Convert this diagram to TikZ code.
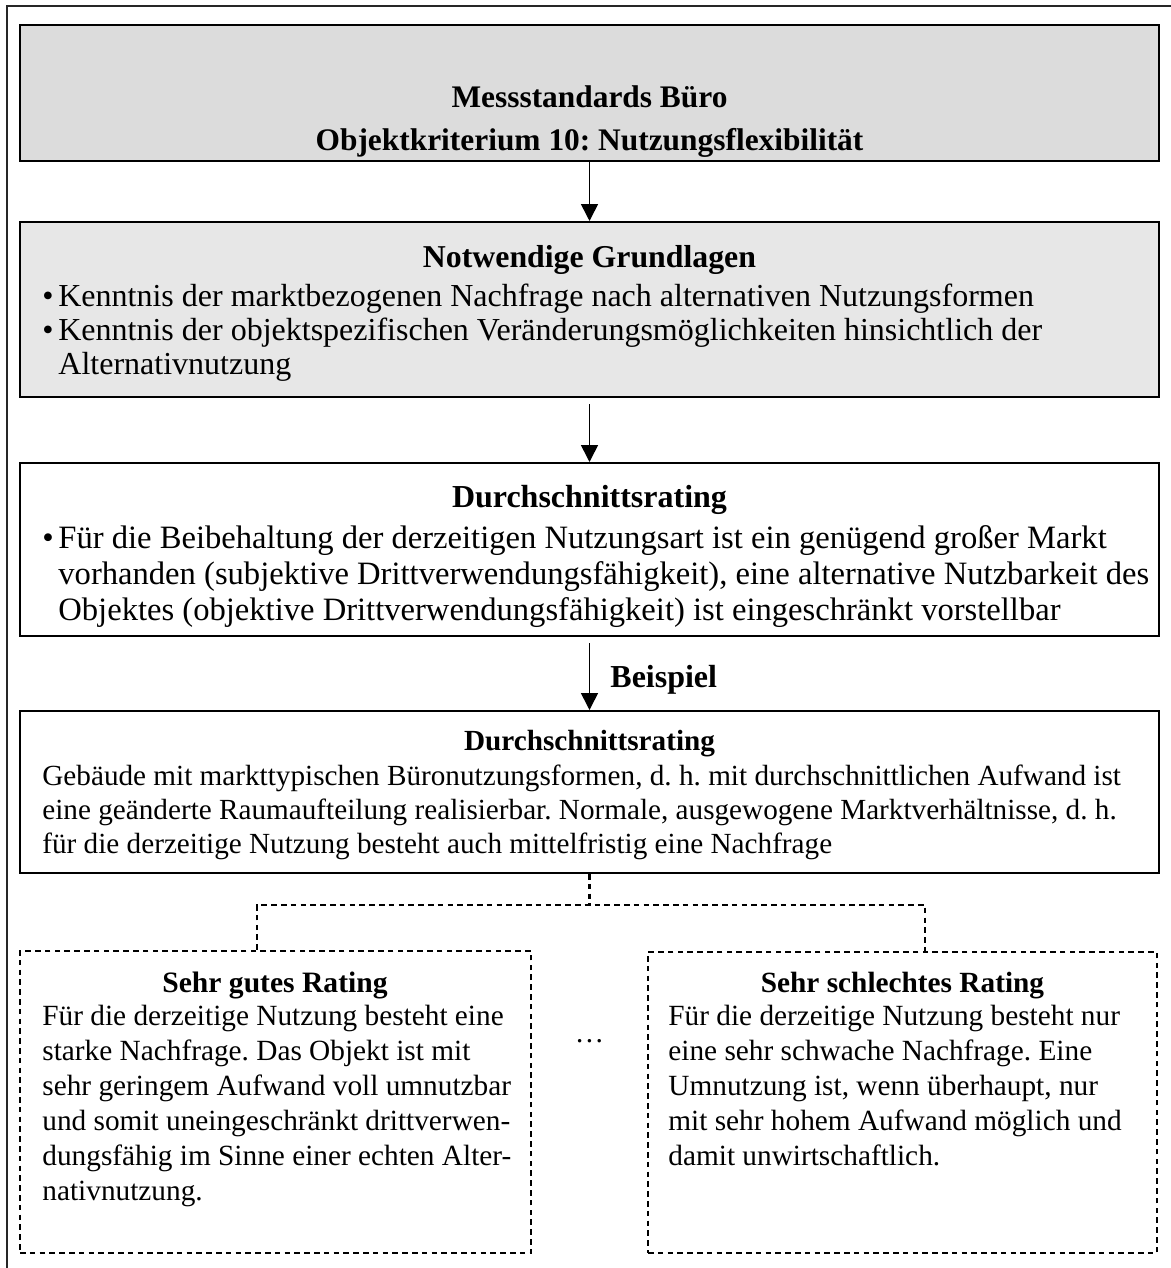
\documentclass[tikz,border=0pt]{standalone}
\usepackage{fontspec}
\setmainfont{Liberation Serif}
\usetikzlibrary{arrows.meta}
\definecolor{headfill}{RGB}{220,220,220}
\definecolor{basisfill}{RGB}{231,231,231}
\newcommand{\bodyfont}[2]{\fontsize{#1}{#2}\selectfont}
\frenchspacing
\begin{document}
\begin{tikzpicture}[x=0.5pt,y=-0.5pt,
  panel/.style={draw, line width=1pt, inner sep=0pt, minimum width=569.5pt},
  dashpanel/.style={draw, line width=1.3pt, dash pattern=on 2.8pt off 2.1pt, inner sep=0pt},
  flow/.style={line width=0.8pt, -{Triangle[length=8.5pt,width=8.5pt]}},
  dashlink/.style={line width=1.3pt, dash pattern=on 2.8pt off 2.1pt},
  txt/.style={anchor=base west, inner sep=0pt, align=left},
  head/.style={anchor=base, inner sep=0pt, font=\bfseries}
]
\useasboundingbox (0,0) rectangle (1171,1268);

% outer frame (cut at the right and bottom page edge)
\draw[line width=1pt, black!85] (7,1268) -- (7,6) -- (1171,6);

% main panels
\node[panel, fill=headfill, minimum height=68pt]   (b1) at (589.5,93) {};
\node[panel, fill=basisfill, minimum height=87.5pt] (b2) at (589.5,309.5) {};
\node[panel, minimum height=86.5pt] (b3) at (589.5,549.5) {};
\node[panel, minimum height=81pt]   (b4) at (589.5,792) {};

% rating examples
\node[dashpanel, minimum width=255.5pt, minimum height=151pt] (lo) at (275.5,1102) {};
\node[dashpanel, minimum width=254.5pt, minimum height=150.5pt] (hi) at (902.5,1102.5) {};

% connectors
\draw[flow] (b1.south) -- (b2.north);
\draw[flow] ([yshift=-3pt]b2.south) -- (b3.north);
\draw[flow] ([yshift=-3pt]b3.south) -- (b4.north);
\node[anchor=base west, inner sep=0pt, font=\bfseries\bodyfont{16}{18}] (bsp) at (610,687) {Beispiel};
\coordinate (fork) at (589.5,905);
\draw[dashlink] (b4.south) -- (fork);
\draw[dashlink] ([xshift=-9.25pt]lo.north) |- (fork) -| ([xshift=11.25pt]hi.north);

% header text
\node[head, font=\bfseries\bodyfont{15.7}{18}] (t1a) at (589.5,108) {Messstandards Büro};
\node[head, font=\bfseries\bodyfont{15.7}{18}] (t1b) at (589.5,150) {Objektkriterium 10: Nutzungsflexibilität};

% basics
\node[head, font=\bfseries\bodyfont{15.9}{17}] (t2) at (589.5,267) {Notwendige Grundlagen};
\node[txt, font=\bodyfont{16}{17}] (t2x) at (42,306) {\begin{tabular}[t]{@{}p{8pt}@{}l@{}}
•&Kenntnis der marktbezogenen Nachfrage nach alternativen Nutzungsformen\\
•&Kenntnis der objektspezifischen Veränderungsmöglichkeiten hinsichtlich der\\
&Alternativnutzung
\end{tabular}};

% average rating, definition
\node[head, font=\bfseries\bodyfont{16}{18}] (t3) at (589.5,507) {Durchschnittsrating};
\node[txt, font=\bodyfont{16.3}{18}] (t3x) at (42,548) {\begin{tabular}[t]{@{}p{8pt}@{}l@{}}
•&Für die Beibehaltung der derzeitigen Nutzungsart ist ein genügend großer Markt\\
&vorhanden (subjektive Drittverwendungsfähigkeit), eine alternative Nutzbarkeit des\\
&Objektes (objektive Drittverwendungsfähigkeit) ist eingeschränkt vorstellbar
\end{tabular}};

% average rating, example
\node[head, font=\bfseries\bodyfont{14.6}{17}] (t4) at (589.5,750) {Durchschnittsrating};
\node[txt, font=\bodyfont{14.6}{17}] (t4x) at (42,785) {\begin{tabular}[t]{@{}l@{}}
Gebäude mit markttypischen Büronutzungsformen, d. h. mit durchschnittlichen Aufwand ist\\
eine geänderte Raumaufteilung realisierbar. Normale, ausgewogene Marktverhältnisse, d. h.\\
für die derzeitige Nutzung besteht auch mittelfristig eine Nachfrage
\end{tabular}};

% very good rating
\node[head, font=\bfseries\bodyfont{14.8}{17.5}] (t5) at (275,992) {Sehr gutes Rating};
\node[txt, font=\bodyfont{14.65}{17.5}] (t5x) at (42,1025) {\begin{tabular}[t]{@{}l@{}}
Für die derzeitige Nutzung besteht eine\\
starke Nachfrage. Das Objekt ist mit\\
sehr geringem Aufwand voll umnutzbar\\
und somit uneingeschränkt drittverwen-\\
dungsfähig im Sinne einer echten Alter-\\
nativnutzung.
\end{tabular}};

% very poor rating
\node[head, font=\bfseries\bodyfont{14.65}{17.5}] (t6) at (902.5,992) {Sehr schlechtes Rating};
\node[txt, font=\bodyfont{14.65}{17.5}] (t6x) at (668,1025) {\begin{tabular}[t]{@{}l@{}}
Für die derzeitige Nutzung besteht nur\\
eine sehr schwache Nachfrage. Eine\\
Umnutzung ist, wenn überhaupt, nur\\
mit sehr hohem Aufwand möglich und\\
damit unwirtschaftlich.
\end{tabular}};

\node[head, font=\bodyfont{14.65}{17.5}] (dots) at (589.5,1042) {\dots};
\end{tikzpicture}
\end{document}
